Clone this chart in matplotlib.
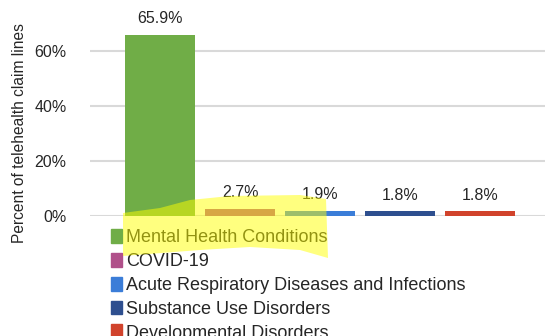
import matplotlib.pyplot as plt
import matplotlib.patches as mpatches
from matplotlib.transforms import Affine2D
import numpy as np

plt.rcParams['font.family'] = ['Liberation Sans', 'DejaVu Sans']

# data
categories = ["Mental Health Conditions", "COVID-19",
              "Acute Respiratory Diseases and Infections",
              "Substance Use Disorders", "Developmental Disorders"]
shares = [65.9, 2.7, 1.9, 1.8, 1.8]
colors = ["#70AD47", "#B0508A", "#3B7DD8", "#2E4F8F", "#D1432C"]

fig = plt.figure(figsize=(5.45, 3.36), dpi=100)
ax = fig.add_axes([90 / 545, 1 - 216 / 336, 460 / 545, 198 / 336])

x = np.arange(len(categories))
ax.bar(x, shares, width=0.875, color=colors, zorder=3)

for xi, v in zip(x, shares):
    ax.annotate(f"{v:.1f}%", (xi, v), xytext=(0, 6), textcoords="offset points",
                ha="center", va="bottom", fontsize=11.5, color="#262626",
                annotation_clip=False)

ax.set_xlim(-0.875, 4.875)
ax.set_ylim(0, 72)
ax.set_yticks([0, 20, 40, 60])
ax.set_yticklabels([f"{t}%" for t in [0, 20, 40, 60]], fontsize=11.5, color="#262626")
ax.set_xticks([])
ax.tick_params(axis="y", length=0, pad=17)
ax.grid(axis="y", color="#D9D9D9", linewidth=1.5, zorder=0)
for s in ax.spines.values():
    s.set_visible(False)
ax.set_ylabel("Percent of telehealth claim lines", fontsize=11.2, color="#262626")
ax.yaxis.set_label_coords(-0.136, 0.42)

# legend below the plot; the last entry runs off the bottom edge as in the reference
handles = [mpatches.Patch(color=c, label=n) for c, n in zip(colors, categories)]
fig.legend(handles=handles, loc="upper left", bbox_to_anchor=(111 / 545, 1 - 229 / 336),
           frameon=False, fontsize=13, handlelength=0.6, handleheight=0.8,
           handletextpad=0.25, labelspacing=0.37, borderaxespad=0, borderpad=0,
           labelcolor="#262626")

# yellow highlighter stroke over the first entry
hl = [(123, 213), (160, 208), (190, 200), (230, 196), (300, 195), (326, 199),
      (328, 258), (300, 250), (250, 247), (200, 250), (123, 256)]
to_fig = Affine2D().scale(1 / 545, -1 / 336).translate(0, 1) + fig.transFigure
fig.patches.append(mpatches.Polygon(hl, closed=True, transform=to_fig,
                                    facecolor="#FFFF00", alpha=0.5, edgecolor="none",
                                    zorder=10))

fig.savefig("out.png", dpi=100)
